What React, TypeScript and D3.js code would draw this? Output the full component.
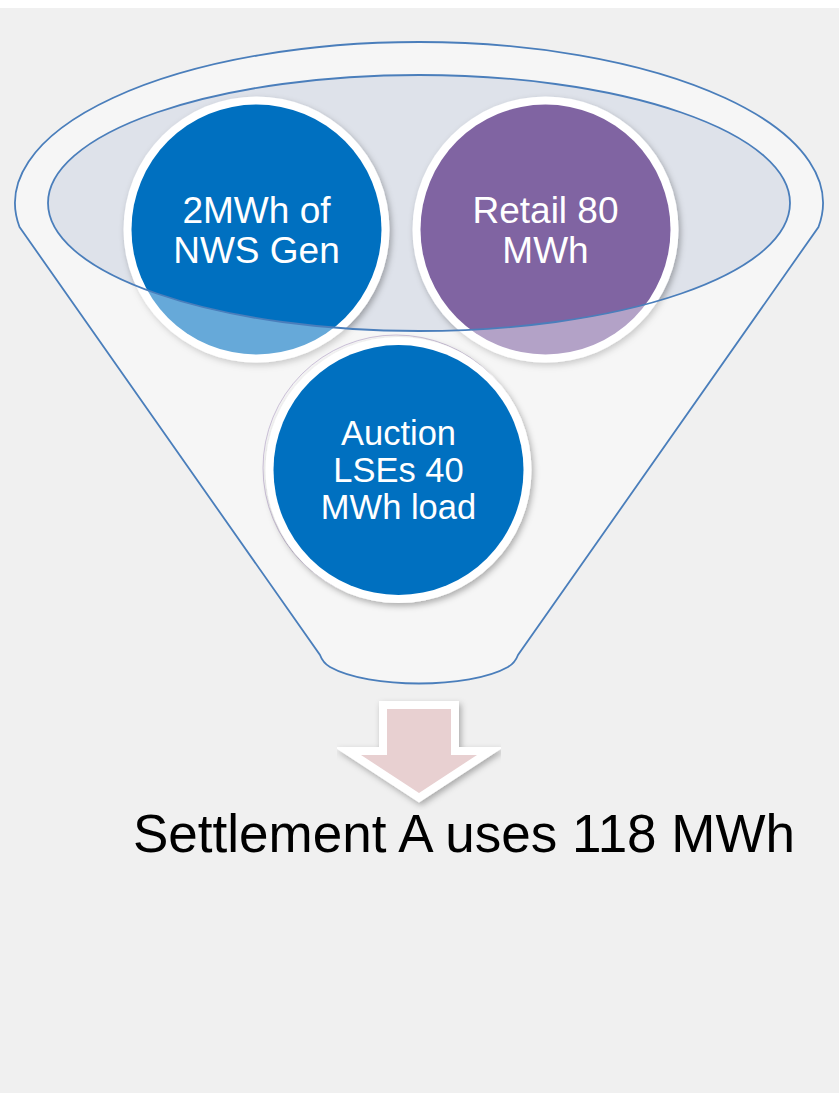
import React from "react";
import * as d3 from "d3";

// ---- data ----
const itemLabels: string[][] = [
  ["2MWh of", "NWS Gen"],
  ["Retail 80", "MWh"],
  ["Auction", "LSEs 40", "MWh load"],
];
const itemMWh: number[] = [2, 80, 40];
const itemColors: string[] = ["#0070c0", "#8064a2", "#0070c0"];
const resultLabel = "Settlement A uses 118 MWh";

const W = 839;
const H = 1093;

export default function App() {
  // funnel geometry
  const cx = 419;
  const topCy = 203;
  const outerRx = 404;
  const outerRy = 161;
  const sideY = 227;
  const sideDx = outerRx * Math.sqrt(1 - ((sideY - topCy) / outerRy) ** 2);
  const neckY = 655;
  const neckHalf = 99;

  const funnel = d3.path();
  funnel.moveTo(cx - sideDx, sideY);
  funnel.lineTo(cx - neckHalf, neckY);
  funnel.quadraticCurveTo(cx - neckHalf + 3, neckY + 8, cx - neckHalf + 10, neckY + 12);
  funnel.bezierCurveTo(cx - 50, neckY + 34, cx + 50, neckY + 34, cx + neckHalf - 10, neckY + 12);
  funnel.quadraticCurveTo(cx + neckHalf - 3, neckY + 8, cx + neckHalf, neckY);
  funnel.lineTo(cx + sideDx, sideY);
  const funnelD =
    funnel.toString() +
    `A${outerRx},${outerRy} 0 1 0 ${cx - sideDx},${sideY}Z`;

  const innerRx = 371;
  const innerRy = 128;
  const innerD = `M${cx - innerRx},${topCy}a${innerRx},${innerRy} 0 1 0 ${2 * innerRx},0a${innerRx},${innerRy} 0 1 0 ${-2 * innerRx},0Z`;

  // circle placement via scales
  const xPos = d3.scalePoint<number>().domain([0, 1]).range([256.5, 545.5]);
  const circles = itemLabels.map((lines, i) => ({
    lines,
    value: itemMWh[i],
    color: itemColors[i],
    x: i < 2 ? (xPos(i) as number) : 398.5,
    y: i < 2 ? 229.5 : 470,
    fs: i < 2 ? 37 : 34.5,
    lh: i < 2 ? 40 : 37,
  }));
  const R = 133;
  const border = 8;

  const renderCircle = (c: any, k: number) => (
    <g key={k}>
      <circle cx={c.x} cy={c.y} r={R} fill="#ffffff" filter="url(#shadow)" />
      <circle cx={c.x} cy={c.y} r={R - border} fill={c.color} />
    </g>
  );
  const renderText = (c: any, k: number) => (
    <text
      key={"t" + k}
      textAnchor="middle"
      fontFamily="'Liberation Sans', Arial, sans-serif"
      fontSize={c.fs}
      fill="#ffffff"
    >
      {c.lines.map((ln: string, j: number) => (
        <tspan
          key={j}
          x={c.x}
          y={c.y + (j - (c.lines.length - 1) / 2) * c.lh + c.fs * 0.716 / 2}
        >
          {ln}
        </tspan>
      ))}
    </text>
  );

  // arrow
  const arrowPts: [number, number][] = [
    [387, 709], [451, 709], [451, 755], [477, 755], [419, 793], [361, 755], [387, 755],
  ];
  const arrowD = d3.line()(arrowPts) + "Z";

  return (
    <div style={{ position: "absolute", left: 0, top: 0 }}>
      <svg width={W} height={H} style={{ display: "block" }}>
        <defs>
          <filter id="shadow" x="-20%" y="-20%" width="140%" height="140%">
            <feDropShadow dx="2" dy="3" stdDeviation="3" floodColor="#000" floodOpacity="0.3" />
          </filter>
        </defs>
        <rect x={0} y={0} width={W} height={H} fill="#ffffff" />
        <rect x={0} y={8} width={W} height={H - 8} fill="#f0f0f0" />

        {/* inner ellipse surface */}
        <path d={innerD} fill="#dee2ea" />

        {/* top circles */}
        {circles.slice(0, 2).map((c, i) => renderCircle(c, i))}

        {/* translucent funnel body (hole at mouth) */}
        <path
          d={funnelD + innerD}
          fill="#ffffff"
          fillOpacity={0.4}
          fillRule="evenodd"
          stroke="none"
        />
        <path d={funnelD} fill="none" stroke="#4a7ebb" strokeWidth={1.8} />
        <path d={innerD} fill="none" stroke="#4a7ebb" strokeWidth={1.8} />

        {circles.slice(0, 2).map((c, i) => renderText(c, i))}

        {/* bottom circle */}
        <circle cx={396} cy={468} r={R} fill="none" stroke="#b9a9cc" strokeWidth={1} opacity={0.7} />
        {renderCircle(circles[2], 2)}
        {renderText(circles[2], 2)}

        {/* arrow */}
        <path
          d={arrowD}
          fill="#ffffff"
          stroke="#ffffff"
          strokeWidth={16}
          strokeLinejoin="miter"
          strokeMiterlimit={5}
          filter="url(#shadow)"
        />
        <path d={arrowD} fill="#e8d0d1" />

        <text
          x={133}
          y={852}
          textLength={662}
          lengthAdjust="spacingAndGlyphs"
          fontFamily="'Liberation Sans', Arial, sans-serif"
          fontSize={54}
          fill="#000000"
        >
          {resultLabel}
        </text>
      </svg>
    </div>
  );
}
